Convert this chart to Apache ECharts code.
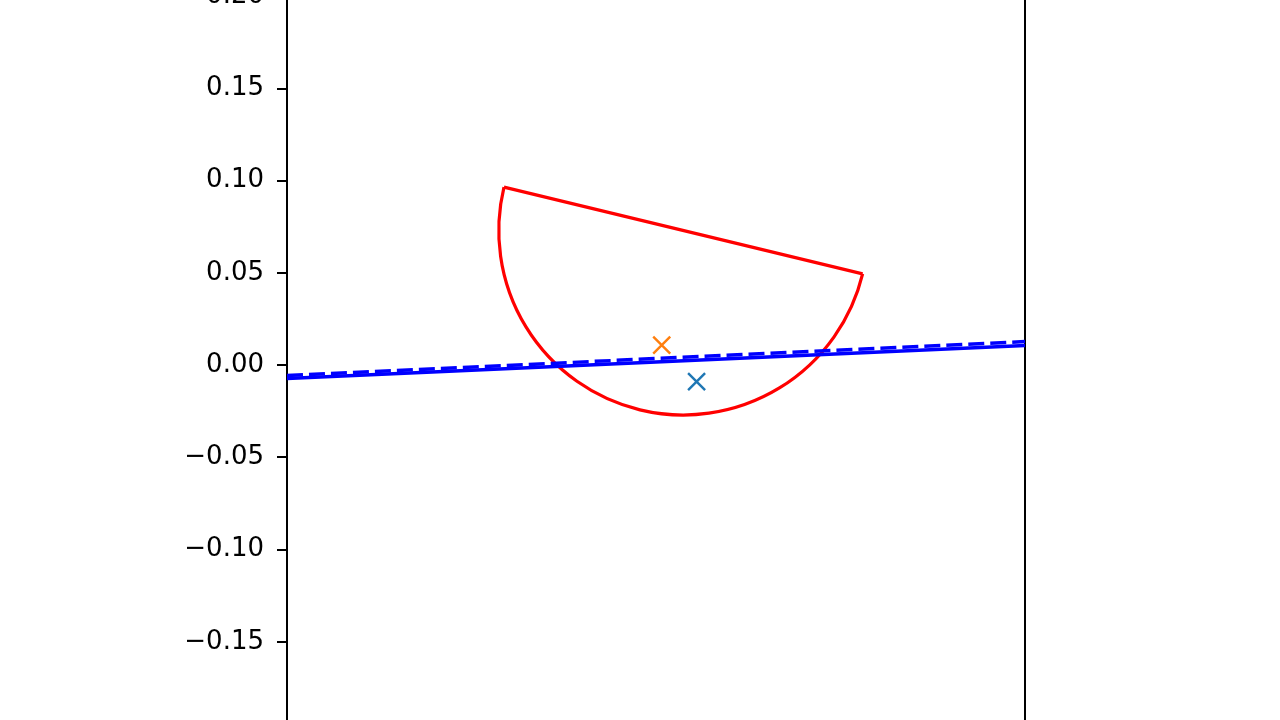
<!DOCTYPE html>
<html>
<head>
    <meta charset="utf-8">
    <title>Half disc on a line</title>
    <script src="https://cdn.jsdelivr.net/npm/echarts@6/dist/echarts.min.js"></script>
    <style>
    *{margin:0px; padding:0px;}
    body{background:#fff;}
    #main{width:1280px; height:720px;}
    </style>
</head>
<body>
    <div id="main"></div>
    <script type="text/javascript">
        // values
        var xRange = [-0.2, 0.2];
        var yRange = [-0.2, 0.2];
        var yStep = 0.05;

        var solidLine = [[-0.2, -0.0073], [0.2, 0.0106]];
        var dashedLine = [[-0.2, -0.0057], [0.2, 0.0127]];

        // half disc: centre, radius, tilt of the flat edge (degrees)
        var discCentre = [0.0148, 0.0729];
        var discRadius = 0.1;
        var discTilt = -13.6;

        var orangeMark = [[0.0031, 0.0108]];
        var blueMark = [[0.0220, -0.0090]];

        var myChart = echarts.init(document.getElementById('main'));

        function fmt(v) {
            return v.toFixed(2).replace('-', '\u2212');
        }

        var crossPath = 'path://M0,0L10,10M10,0L0,10';

        var option = {
            animation: false,
            backgroundColor: '#fff',
            grid: {left: 287, right: 255, top: -4, bottom: -14, containLabel: false, outerBoundsMode: 'none'},
            xAxis: {
                type: 'value',
                min: xRange[0],
                max: xRange[1],
                show: false
            },
            yAxis: [{
                type: 'value',
                min: yRange[0],
                max: yRange[1],
                interval: yStep,
                axisLine: {show: true, onZero: false, lineStyle: {color: '#000', width: 2}},
                axisTick: {show: true, length: 10, lineStyle: {color: '#000', width: 2}},
                axisLabel: {
                    formatter: fmt,
                    color: '#000',
                    fontFamily: 'DejaVu Sans',
                    fontSize: 26,
                    margin: 23
                },
                splitLine: {show: false}
            }, {
                type: 'value',
                position: 'right',
                min: yRange[0],
                max: yRange[1],
                interval: yStep,
                axisLine: {show: true, onZero: false, lineStyle: {color: '#000', width: 2}},
                axisTick: {show: false},
                axisLabel: {show: false},
                splitLine: {show: false}
            }],
            series: [{
                type: 'custom',
                data: [[discCentre[0], discCentre[1], discRadius, discTilt]],
                silent: true,
                renderItem: function (params, api) {
                    var c = api.coord([api.value(0), api.value(1)]);
                    var r = api.size([api.value(2), api.value(2)])[0];
                    var a = -api.value(3) * Math.PI / 180;
                    var x1 = c[0] + r * Math.cos(a), y1 = c[1] + r * Math.sin(a);
                    var x2 = c[0] - r * Math.cos(a), y2 = c[1] - r * Math.sin(a);
                    var st = {stroke: '#ff0000', fill: null, lineWidth: 3.2, lineJoin: 'miter'};
                    return {
                        type: 'group',
                        children: [{
                            type: 'arc',
                            shape: {cx: c[0], cy: c[1], r: r, startAngle: a, endAngle: a + Math.PI, clockwise: true},
                            style: st
                        }, {
                            type: 'line',
                            shape: {x1: x1, y1: y1, x2: x2, y2: y2},
                            style: st
                        }]
                    };
                }
            }, {
                type: 'line',
                data: dashedLine,
                symbol: 'none',
                silent: true,
                lineStyle: {color: '#0000ff', width: 3.5, type: [16, 6]}
            }, {
                type: 'line',
                data: solidLine,
                symbol: 'none',
                silent: true,
                lineStyle: {color: '#0000ff', width: 3.5}
            }, {
                type: 'scatter',
                data: blueMark,
                symbol: crossPath,
                symbolSize: 17,
                silent: true,
                itemStyle: {color: 'none', borderColor: '#1f77b4', borderWidth: 2.4, opacity: 1}
            }, {
                type: 'scatter',
                data: orangeMark,
                symbol: crossPath,
                symbolSize: 17,
                silent: true,
                itemStyle: {color: 'none', borderColor: '#ff7f0e', borderWidth: 2.4, opacity: 1}
            }]
        };

        myChart.setOption(option);
    </script>
</body>
</html>
